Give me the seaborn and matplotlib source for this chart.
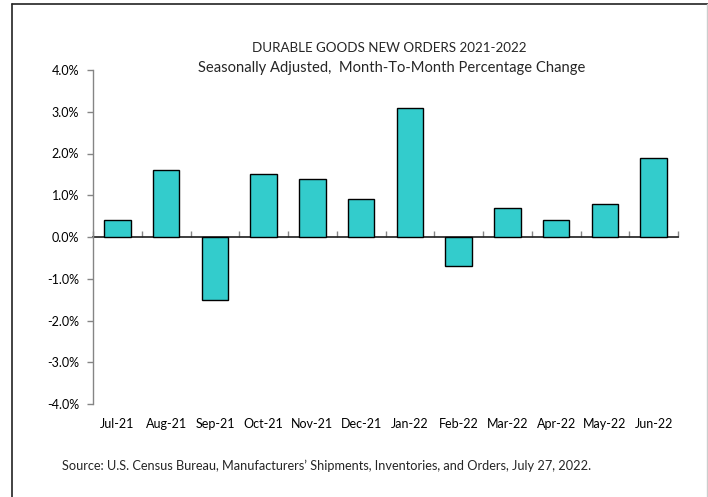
import matplotlib
matplotlib.use("Agg")
import matplotlib.pyplot as plt
import seaborn as sns
import pandas as pd
from matplotlib.lines import Line2D
from matplotlib.ticker import FuncFormatter

months = ["Jul-21", "Aug-21", "Sep-21", "Oct-21", "Nov-21", "Dec-21",
          "Jan-22", "Feb-22", "Mar-22", "Apr-22", "May-22", "Jun-22"]
pct_change = [0.4, 1.6, -1.5, 1.5, 1.4, 0.9, 3.1, -0.7, 0.7, 0.4, 0.8, 1.9]
yticks = [-4, -3, -2, -1, 0, 1, 2, 3, 4]

df = pd.DataFrame({"month": months, "value": pct_change})

sns.set_theme(style="white")
plt.rcParams["font.family"] = ["Lato", "DejaVu Sans"]

fig = plt.figure(figsize=(7.08, 4.97), dpi=100)
ax = fig.add_axes([93/708, 1-404/497, (678-93)/708, (404-70)/497])

sns.barplot(data=df, x="month", y="value", color="#33CCCC", saturation=1,
            edgecolor="black", linewidth=1.0, width=0.54, ax=ax)

ax.set_xlim(-0.5, len(months) - 0.5)
ax.set_ylim(-4, 4)
ax.set_yticks(yticks)
ax.yaxis.set_major_formatter(FuncFormatter(lambda v, p: f"{v:.1f}%"))
ax.set_xlabel("")
ax.set_ylabel("")

for s in ["top", "right", "bottom"]:
    ax.spines[s].set_visible(False)
ax.spines["left"].set_color("#858585")
ax.spines["left"].set_linewidth(1.0)
ax.tick_params(axis="y", left=True, length=4, width=1, color="#858585",
               labelsize=9, labelcolor="black", pad=6)
ax.tick_params(axis="x", bottom=False, length=0, labelsize=9,
               labelcolor="black", pad=10)

# zero line axis with ticks at category boundaries
sec = ax.secondary_xaxis(0.5)
sec.set_xticks([i - 0.5 for i in range(len(months) + 1)])
sec.set_xticklabels([])
sec.tick_params(axis="x", direction="out", length=4, width=1, color="#858585")
sec.spines["bottom"].set_color("#858585")
sec.spines["bottom"].set_linewidth(1.0)
sec.set_zorder(0)

fig.text(389/708, 1-48/497, "DURABLE GOODS NEW ORDERS 2021-2022",
         ha="center", va="center", fontsize=9.6)
fig.text(392/708, 1-68/497,
         "Seasonally Adjusted,  Month-To-Month Percentage Change",
         ha="center", va="center", fontsize=10.6)
fig.text(62/708, 1-466/497,
         "Source: U.S. Census Bureau, Manufacturers\u2019 Shipments, Inventories, and Orders, July 27, 2022.",
         ha="left", va="center", fontsize=9.2)

# outer frame
fig.add_artist(Line2D([12/708, 12/708], [0, 1-4/497], transform=fig.transFigure,
                      color="#222222", lw=1.2))
fig.add_artist(Line2D([12/708, 1], [1-4/497, 1-4/497], transform=fig.transFigure,
                      color="#222222", lw=1.2))
fig.add_artist(Line2D([706.5/708, 706.5/708], [0, 1-4/497], transform=fig.transFigure,
                      color="#cccccc", lw=1.0))

fig.savefig("out.png", dpi=100)
